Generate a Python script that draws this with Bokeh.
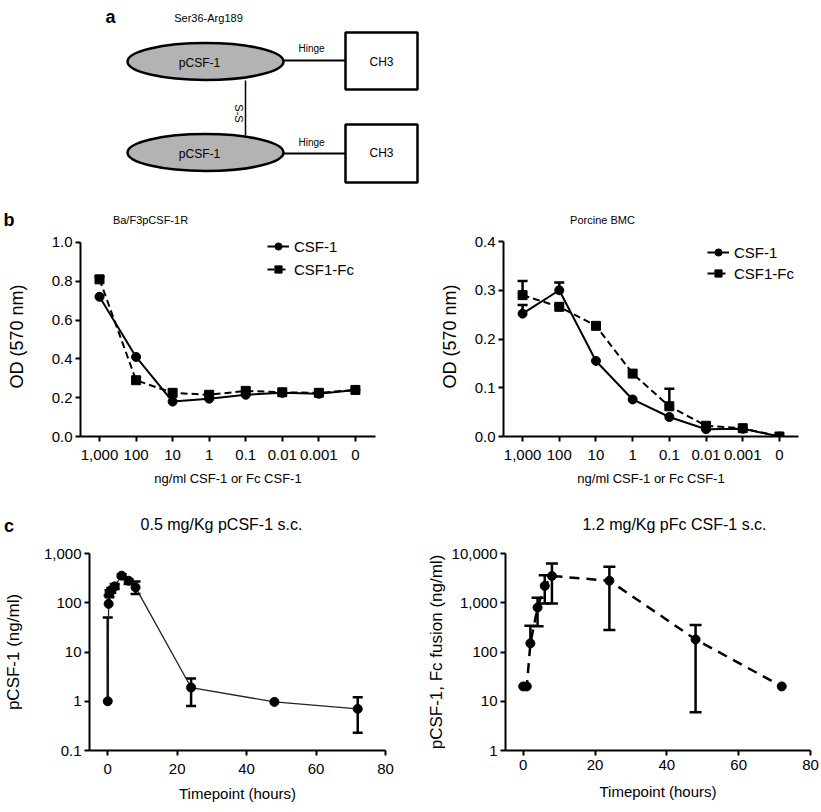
import math
from bokeh.plotting import figure
from bokeh.layouts import column, row
from bokeh.models import (Range1d, FixedTicker, Legend, LegendItem, Whisker,
                          ColumnDataSource, TeeHead, NumeralTickFormatter)
from bokeh.core.properties import value
from bokeh.embed import file_html
from bokeh.resources import INLINE

FONT = "Liberation Sans"

# ---------------- data ----------------
conc_labels = ["1,000", "100", "10", "1", "0.1", "0.01", "0.001", "0"]

baf3_csf1 = [0.72, 0.41, 0.18, 0.195, 0.215, 0.225, 0.22, 0.24]
baf3_fc = [0.81, 0.29, 0.225, 0.215, 0.235, 0.228, 0.225, 0.24]
baf3_fc_err = [0.015, 0.015, 0, 0, 0, 0, 0, 0]

bmc_csf1 = [0.252, 0.300, 0.155, 0.076, 0.040, 0.015, 0.016, 0.0]
bmc_csf1_err = [0.018, 0.016, 0, 0, 0, 0, 0, 0]
bmc_fc = [0.290, 0.266, 0.227, 0.129, 0.062, 0.022, 0.017, 0.0]
bmc_fc_err = [0.029, 0, 0, 0, 0.036, 0, 0, 0]

pk_t = [0, 0.25, 0.5, 1, 2, 4, 6, 8, 24, 48, 72]
pk_csf1 = [1.0, 95, 155, 180, 215, 355, 280, 205, 1.9, 0.97, 0.7]
pk_csf1_lo = [1.0, 95, 130, 160, 190, 330, 240, 150, 0.8, 0.97, 0.23]
pk_csf1_hi = [50, 140, 180, 200, 240, 380, 300, 270, 2.9, 0.97, 1.2]

fc_t = [0, 1, 2, 4, 6, 8, 24, 48, 72]
fc_conc = [20, 20, 150, 800, 2200, 3500, 2800, 180, 20]
fc_lo = [20, 20, 150, 335, 960, 960, 280, 6, 20]
fc_hi = [20, 20, 340, 1260, 3600, 6300, 5400, 355, 20]

titles_b = ["Ba/F3pCSF-1R", "Porcine BMC"]
titles_c = ["0.5 mg/Kg pCSF-1 s.c.", "1.2 mg/Kg pFc CSF-1 s.c."]

# diagram (panel a) geometry in page pixels
ell_x = [205, 205]
ell_y = [61, 152]
box_left = [345, 345]
box_right = [417, 417]
box_top = [32, 124]
box_bottom = [89, 182]
hinge_y = [60, 153]


def style(p, xlabel, ylabel, xsize, ysize, xlab_off, ylab_off, tick_off=4, tsize="15px"):
    p.grid.visible = False
    p.outline_line_color = None
    p.background_fill_color = "white"
    for ax in (p.xaxis[0], p.yaxis[0]):
        ax.axis_line_width = 2
        ax.axis_line_color = "black"
        ax.major_tick_line_width = 2
        ax.major_tick_line_color = "black"
        ax.major_tick_out = 5
        ax.major_tick_in = 0
        ax.minor_tick_line_color = None
        ax.major_label_text_font = FONT
        ax.major_label_text_font_size = tsize
        ax.major_label_text_color = "black"
        ax.axis_label_text_font = FONT
        ax.axis_label_text_font_style = "normal"
        ax.axis_label_text_color = "black"
    p.xaxis[0].axis_label = xlabel
    p.yaxis[0].axis_label = ylabel
    p.xaxis[0].axis_label_text_font_size = xsize
    p.yaxis[0].axis_label_text_font_size = ysize
    p.xaxis[0].major_label_standoff = tick_off
    p.yaxis[0].major_label_standoff = 3
    p.xaxis[0].axis_label_standoff = xlab_off
    p.yaxis[0].axis_label_standoff = ylab_off


def whiskers(p, xs, ys, lo, hi, size=10, lw=2.5):
    up = [(x, y, h) for x, y, h in zip(xs, ys, hi) if h > y]
    dn = [(x, y, l) for x, y, l in zip(xs, ys, lo) if l < y]
    if up:
        s = ColumnDataSource(dict(x=[u[0] for u in up], y=[u[1] for u in up], h=[u[2] for u in up]))
        p.add_layout(Whisker(source=s, base="x", lower="y", upper="h", dimension="height",
                             line_width=lw, line_color="black",
                             upper_head=TeeHead(size=size, line_width=lw, line_color="black"),
                             lower_head=None))
    if dn:
        s = ColumnDataSource(dict(x=[u[0] for u in dn], y=[u[1] for u in dn], l=[u[2] for u in dn]))
        p.add_layout(Whisker(source=s, base="x", lower="l", upper="y", dimension="height",
                             line_width=lw, line_color="black",
                             lower_head=TeeHead(size=size, line_width=lw, line_color="black"),
                             upper_head=None))


def txt(p, x, y, t, size, bold=False, angle=0.0):
    p.text(x=x, y=y, text=t, angle=angle, text_font=value(FONT), text_font_size=size,
           text_font_style="bold" if bold else "normal", text_color="black",
           text_align="center", text_baseline="middle")


def canvas(w, h, y0):
    c = figure(width=w, height=h, x_range=Range1d(0, w), y_range=Range1d(y0 + h, y0),
               toolbar_location=None, output_backend="svg", min_border=0,
               x_axis_location=None, y_axis_location=None)
    c.grid.visible = False
    c.outline_line_color = None
    return c


# ---------------- panel a (+ panel b letter and titles) ----------------
pa = canvas(821, 232, 0)
pa.ellipse(x=ell_x, y=ell_y, width=156, height=37, width_units="screen", height_units="screen",
           fill_color="#b3b3b3", line_color="black", line_width=2.5)
pa.segment(x0=[283, 283], y0=hinge_y, x1=box_left, y1=hinge_y, line_color="black", line_width=2)
pa.quad(left=box_left, right=box_right, top=box_top, bottom=box_bottom,
        fill_color="white", line_color="black", line_width=2.5)
pa.segment(x0=[245], y0=[80], x1=[245], y1=[135], line_color="black", line_width=1.5)
txt(pa, [110], [16], ["a"], "18px", bold=True)
txt(pa, [208], [17], ["Ser36-Arg189"], "11px")
txt(pa, [199, 199], [62, 153], ["pCSF-1", "pCSF-1"], "12px")
txt(pa, [311, 311], [48, 142], ["Hinge", "Hinge"], "10px")
txt(pa, [381, 381], [61, 152], ["CH3", "CH3"], "12px")
txt(pa, [238], [113], ["S-S"], "11px", angle=-math.pi / 2)
txt(pa, [8.5], [219], ["b"], "18px", bold=True)
txt(pa, [150, 602], [219, 219], titles_b, "11px")

# ---------------- panel b ----------------
cats = list(range(len(conc_labels)))


def bpanel(width, left, right, frame_top_pad, bottom, x0, x1, ymax, yticks, y1, y2, e1, e2,
           leg_loc, leg_spacing, ylab_off):
    ytop = ymax * (1 + frame_top_pad / 195.0)
    p = figure(width=width, height=264, x_range=Range1d(x0, x1), y_range=Range1d(0, ytop),
               toolbar_location=None, output_backend="svg",
               min_border_left=left, min_border_right=right,
               min_border_top=264 - bottom - 195 - frame_top_pad, min_border_bottom=bottom)
    style(p, "ng/ml CSF-1 or Fc CSF-1", "OD (570 nm)", "13px", "18px", 8, ylab_off, tick_off=8)
    p.yaxis[0].bounds = (0, ymax)
    p.xaxis[0].ticker = FixedTicker(ticks=cats)
    p.xaxis[0].major_label_overrides = {i: lab for i, lab in enumerate(conc_labels)}
    p.yaxis[0].ticker = FixedTicker(ticks=yticks)
    p.yaxis[0].formatter = NumeralTickFormatter(format="0.0")
    whiskers(p, cats, y1, y1, [a + b for a, b in zip(y1, e1)], size=10, lw=2.5)
    whiskers(p, cats, y2, y2, [a + b for a, b in zip(y2, e2)], size=10, lw=2.5)
    l1 = p.line(cats, y1, line_color="black", line_width=2)
    m1 = p.scatter(cats, y1, marker="circle", size=9, color="black")
    l2 = p.line(cats, y2, line_color="black", line_width=2, line_dash="7 4")
    m2 = p.scatter(cats, y2, marker="square", size=9, color="black")
    leg = Legend(items=[LegendItem(label="CSF-1", renderers=[l1, m1]),
                        LegendItem(label="CSF1-Fc", renderers=[l2, m2])],
                 location=leg_loc, border_line_color=None, background_fill_alpha=0,
                 padding=0, margin=0, spacing=leg_spacing, glyph_width=22, glyph_height=18,
                 label_height=18, label_standoff=5, label_text_font=FONT,
                 label_text_font_size="15px", label_text_color="black")
    p.add_layout(leg)
    return p


pb1 = bpanel(410, 80, 35, 6, 59, -0.52, 7.55, 1.0, [0, 0.2, 0.4, 0.6, 0.8, 1.0],
             baf3_csf1, baf3_fc, [0] * 8, baf3_fc_err, (187, 158), 5, 22)
pb2 = bpanel(411, 93, 23, 5, 60, -0.52, 7.52, 0.4, [0, 0.1, 0.2, 0.3, 0.4],
             bmc_csf1, bmc_fc, bmc_csf1_err, bmc_fc_err, (204, 154), 3, 12)

# ---------------- strip with panel c letter and titles ----------------
ps = canvas(821, 39, 496)
txt(ps, [8.5], [525], ["c"], "18px", bold=True)
txt(ps, [221, 674], [524, 524], titles_c, "16px")

# ---------------- panel c ----------------
pc1 = figure(width=410, height=276, x_range=Range1d(-5.26, 80), y_range=Range1d(0.1, 1000),
             y_axis_type="log", toolbar_location=None, output_backend="svg",
             min_border_left=82, min_border_right=25, min_border_top=9, min_border_bottom=61)
style(pc1, "Timepoint (hours)", "pCSF-1 (ng/ml)", "15px", "17px", 8, 18, tick_off=8)
pc1.xaxis[0].ticker = FixedTicker(ticks=[0, 20, 40, 60, 80])
pc1.yaxis[0].ticker = FixedTicker(ticks=[0.1, 1, 10, 100, 1000])
pc1.yaxis[0].formatter = NumeralTickFormatter(format="0,0.[0]")
whiskers(pc1, pk_t, pk_csf1, pk_csf1_lo, pk_csf1_hi, size=10, lw=2.5)
pc1.line(pk_t, pk_csf1, line_color="#222222", line_width=1.3)
pc1.scatter(pk_t, pk_csf1, marker="circle", size=9, color="black")

pc2 = figure(width=411, height=276, x_range=Range1d(-4.93, 80), y_range=Range1d(1, 10000),
             y_axis_type="log", toolbar_location=None, output_backend="svg",
             min_border_left=95, min_border_right=11, min_border_top=18, min_border_bottom=54)
style(pc2, "Timepoint (hours)", "pCSF-1, Fc fusion (ng/ml)", "15px", "17px", 10, 3, tick_off=4)
pc2.xaxis[0].ticker = FixedTicker(ticks=[0, 20, 40, 60, 80])
pc2.yaxis[0].ticker = FixedTicker(ticks=[1, 10, 100, 1000, 10000])
pc2.yaxis[0].formatter = NumeralTickFormatter(format="0,0")
whiskers(pc2, fc_t, fc_conc, fc_lo, fc_hi, size=12, lw=2.5)
pc2.line(fc_t, fc_conc, line_color="black", line_width=2.5, line_dash="10 7")
pc2.scatter(fc_t, fc_conc, marker="circle", size=9, color="black")

layout = column(pa, row(pb1, pb2), ps, row(pc1, pc2))
open("out.html", "w").write(file_html(layout, INLINE))
